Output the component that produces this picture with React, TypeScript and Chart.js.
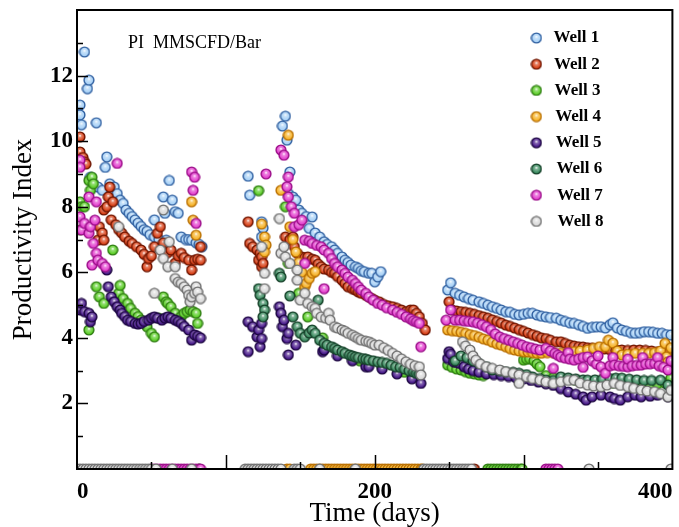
import React, { useEffect, useRef } from 'react';
import { Chart, registerables } from 'chart.js';

Chart.register(...registerables);

// ---------------- data (day, productivity index) ----------------
const wellNames = ['Well 1', 'Well 2', 'Well 3', 'Well 4', 'Well 5', 'Well 6', 'Well 7', 'Well 8'];
const wellFills = ['#a9d2f7', '#d9431a', '#5fcf2c', '#f7b52c', '#4b1d8c', '#3d8c61', '#e444cf', '#dadada'];
const wellEdges = ['#2f5fa0', '#6e1500', '#2f7d12', '#b86e00', '#1c0640', '#164029', '#9a0f88', '#6e6e6e'];

const xTickLabels = [0, 200, 400];
const yTickLabels = [2, 4, 6, 8, 10, 12];
const annotationText = 'PI  MMSCFD/Bar';
const xTitle = 'Time (days)';
const yTitle = 'Productivity Index';

const well1 = [
  [2, 11.1], [2, 10.8], [3, 10.5], [5, 12.72], [7, 11.6], [8, 11.86], [9, 8.9], [11, 8.7], [13, 10.56], [14, 8.6],
  [17, 8.5], [19, 9.2], [20, 9.52], [22, 8.7], [25, 8.6], [27, 8.4], [29, 8.2], [31, 8.1], [33, 7.9], [35, 7.8],
  [37, 7.7], [39, 7.6], [41, 7.5], [43, 7.4], [45, 7.3], [47, 7.25], [49, 7.15], [52, 7.08], [52, 7.6], [55, 7.0],
  [58, 8.3], [59, 7.8], [60, 6.98], [62, 8.8], [64, 8.2], [66, 7.85], [68, 7.8], [70, 7.08], [73, 7.0], [75, 7.0],
  [77, 6.98], [80, 6.9], [82, 6.85], [84, 6.78],
  [115, 8.93], [116, 8.35], [124, 7.54], [125, 7.35], [124, 7.08],
  [138, 10.46], [140, 10.76], [141, 10.03], [142, 8.4], [143, 9.06], [145, 8.3], [147, 8.2], [149, 7.9], [151, 7.8],
  [154, 7.7], [156, 7.34], [158, 7.69], [160, 7.2], [163, 7.08], [166, 6.93], [168, 6.85], [171, 6.78], [173, 6.68],
  [175, 6.58], [178, 6.47], [180, 6.37], [182, 6.3], [184, 6.22], [187, 6.17], [189, 6.12], [191, 6.05], [193, 6.02],
  [196, 5.97], [198, 5.97], [200, 5.71], [202, 5.86], [204, 6.02],
  [249, 5.46], [251, 5.68], [254, 5.36], [257, 5.3], [260, 5.25], [263, 5.2], [266, 5.15], [270, 5.1], [273, 5.05],
  [276, 5.0], [279, 4.95], [282, 4.9], [285, 4.85], [288, 4.8], [291, 4.78], [294, 4.72], [297, 4.7], [300, 4.72],
  [303, 4.75], [306, 4.75], [309, 4.7], [312, 4.66], [315, 4.64], [318, 4.62], [322, 4.6], [325, 4.54], [328, 4.5],
  [331, 4.46], [334, 4.44], [337, 4.4], [340, 4.35], [343, 4.29], [346, 4.32], [349, 4.34], [352, 4.34], [355, 4.3],
  [358, 4.4], [360, 4.46], [363, 4.3], [366, 4.24], [369, 4.2], [372, 4.16], [375, 4.14], [378, 4.16], [381, 4.19],
  [384, 4.19], [387, 4.17], [390, 4.14], [393, 4.14], [396, 4.1], [399, 4.09],
];

const well2 = [
  [2, 10.13], [2, 9.67], [3, 9.45], [4, 9.5], [5, 9.37], [6, 9.3], [14, 6.98], [15, 7.39], [17, 7.2], [18, 6.98],
  [18, 7.9], [20, 8.0], [21, 8.3], [22, 8.6], [24, 8.15], [23, 7.6], [26, 7.45], [28, 7.3], [30, 7.2], [32, 7.08],
  [35, 6.95], [37, 6.88], [40, 6.78], [43, 6.68], [45, 6.55], [47, 6.17], [48, 6.42], [50, 6.5], [52, 6.78], [54, 7.19],
  [56, 7.39], [58, 6.9], [59, 6.58], [61, 6.6], [63, 6.68], [66, 6.28], [68, 6.5], [70, 6.58], [72, 6.45], [75, 6.37],
  [77, 6.07], [79, 6.37], [81, 6.4], [83, 6.37], [83, 6.78],
  [115, 7.54], [116, 6.88], [118, 6.78], [121, 6.68], [122, 6.37], [123, 6.58], [124, 6.47], [124, 6.17], [125, 6.27],
  [140, 7.08], [143, 7.0], [145, 7.08], [146, 6.78], [148, 6.58], [151, 6.47], [153, 6.45], [155, 6.47], [158, 6.4],
  [160, 6.37], [162, 6.25], [164, 6.17], [166, 6.1], [169, 6.07], [171, 6.0], [173, 5.97], [175, 5.87], [178, 5.76],
  [180, 5.66], [182, 5.56], [185, 5.5], [187, 5.46], [189, 5.4], [191, 5.36], [194, 5.3], [196, 5.25], [198, 5.2],
  [200, 5.15], [203, 5.1], [206, 5.02], [209, 4.98], [212, 4.95], [215, 4.9], [218, 4.85], [221, 4.8], [224, 4.85],
  [226, 4.85], [228, 4.75], [230, 4.64], [232, 4.44], [234, 4.24],
  [250, 5.1], [252, 4.85], [255, 4.82], [258, 4.8], [261, 4.78], [264, 4.75], [267, 4.72], [270, 4.68], [273, 4.64],
  [276, 4.6], [279, 4.55], [282, 4.5], [285, 4.45], [288, 4.39], [291, 4.35], [294, 4.3], [297, 4.25], [300, 4.2],
  [303, 4.15], [306, 4.1], [309, 4.05], [312, 4.0], [315, 3.98], [318, 3.93], [322, 3.88], [325, 3.88], [328, 3.83],
  [331, 3.78], [334, 3.75], [337, 3.73], [340, 3.72], [343, 3.7], [346, 3.68], [350, 3.68], [354, 3.66], [358, 3.64],
  [362, 3.63], [366, 3.63], [370, 3.62], [374, 3.63], [378, 3.63], [382, 3.62], [386, 3.6], [390, 3.58], [394, 3.58],
  [398, 3.56],
];

const well3 = [
  [2, 8.15], [2, 7.29], [3, 8.0], [5, 8.0], [8, 8.8], [9, 8.5], [10, 8.9], [11, 8.7], [8, 4.24], [13, 5.56],
  [15, 5.25], [18, 5.05], [24, 6.68], [28, 5.36], [29, 5.6], [31, 5.2], [34, 5.05], [36, 4.9], [39, 4.75], [41, 4.65],
  [43, 4.54], [45, 4.45], [47, 4.34], [50, 4.14], [52, 4.03], [55, 4.6], [58, 5.25], [60, 5.1], [61, 5.05], [63, 4.95],
  [66, 4.75], [68, 4.54], [70, 4.65], [72, 4.75], [74, 4.8], [76, 4.85], [78, 4.8], [80, 4.75], [81, 4.44],
  [122, 8.49],
  [140, 8.0], [142, 6.27], [149, 5.36], [155, 4.64], [165, 4.0], [175, 3.6], [190, 3.3], [205, 3.12], [220, 2.95],
  [249, 3.17], [252, 3.1], [255, 3.05], [258, 3.02], [261, 2.97], [264, 2.92], [267, 2.9], [270, 2.87], [273, 2.85],
  [300, 3.32], [302, 3.35], [304, 3.37], [307, 3.3], [309, 3.2], [311, 3.12], [315, 2.85], [320, 2.78], [325, 2.76],
  [330, 2.74], [335, 2.7], [340, 2.68], [345, 2.66], [350, 2.65], [355, 2.63], [360, 2.62], [365, 2.6], [370, 2.6],
  [375, 2.58], [380, 2.55], [385, 2.57], [390, 2.6], [395, 2.62], [398, 2.6], [399, 2.77],
];

const well4 = [
  [77, 8.15], [78, 7.59], [80, 7.13],
  [124, 7.47], [126, 7.08], [127, 6.83], [126, 6.62],
  [137, 8.5], [142, 10.18], [143, 7.39], [145, 7.0], [147, 6.62], [149, 6.3], [151, 6.0], [153, 5.56], [154, 5.66],
  [156, 5.81], [158, 5.97], [160, 6.02],
  [249, 4.24], [252, 4.22], [255, 4.2], [258, 4.17], [261, 4.14], [264, 4.1], [267, 4.07], [270, 4.02], [273, 3.97],
  [276, 3.93], [279, 3.87], [282, 3.82], [285, 3.78], [288, 3.73], [291, 3.67], [294, 3.63], [297, 3.6], [300, 3.58],
  [303, 3.57], [306, 3.55], [309, 3.53], [312, 3.53], [316, 3.55], [320, 3.55], [325, 3.53], [330, 3.56], [334, 3.58],
  [338, 3.6], [343, 3.63], [347, 3.68], [351, 3.73], [355, 3.73], [357, 3.93], [360, 3.84], [363, 3.6], [366, 3.48],
  [370, 3.5], [375, 3.53], [380, 3.53], [384, 3.53], [388, 3.55], [392, 3.6], [395, 3.83], [396, 3.42], [397, 3.27],
  [399, 3.7],
];

const well5 = [
  [1, 4.95], [2, 4.85], [3, 5.05], [5, 4.8], [8, 4.75], [9, 4.49], [10, 4.64], [20, 6.07], [21, 5.56], [23, 5.25],
  [25, 5.1], [27, 4.95], [29, 4.85], [30, 4.75], [32, 4.65], [34, 4.54], [36, 4.5], [39, 4.44], [41, 4.42], [43, 4.44],
  [45, 4.5], [48, 4.54], [50, 4.6], [52, 4.64], [54, 4.6], [57, 4.54], [59, 4.6], [61, 4.64], [63, 4.6], [66, 4.54],
  [68, 4.5], [70, 4.44], [72, 4.35], [75, 4.24], [77, 3.93], [79, 4.09], [81, 4.05], [83, 4.0],
  [115, 4.49], [115, 3.58], [118, 4.34], [121, 4.03], [122, 4.24], [123, 3.73], [124, 4.44], [124, 3.98],
  [136, 4.95], [137, 4.75], [138, 4.34], [139, 4.54], [141, 3.98], [142, 4.14], [142, 3.48], [147, 3.78], [165, 3.58],
  [166, 3.63], [175, 3.45], [185, 3.3], [194, 3.12], [196, 3.12], [205, 3.05], [215, 2.9], [225, 2.75], [231, 2.61],
  [249, 3.37], [250, 3.58], [251, 3.5], [253, 3.27], [255, 3.25], [257, 3.22], [260, 3.12], [263, 3.05], [266, 3.0],
  [270, 2.95], [275, 2.9], [280, 2.88], [285, 2.85], [290, 2.82], [295, 2.78], [300, 2.75], [305, 2.7], [310, 2.65],
  [315, 2.6], [320, 2.55], [325, 2.45], [330, 2.35], [335, 2.28], [340, 2.2], [342, 2.1], [346, 2.2], [352, 2.25],
  [358, 2.2], [361, 2.15], [365, 2.1], [370, 2.2], [375, 2.25], [379, 2.2], [385, 2.22], [390, 2.25], [397, 2.2],
];

const well6 = [
  [122, 5.5], [123, 5.3], [125, 5.05], [126, 4.85], [125, 4.64],
  [136, 5.97], [137, 5.86], [143, 5.28], [145, 4.64], [148, 4.34], [150, 4.14], [153, 4.03], [156, 4.15], [158, 4.24],
  [160, 4.14], [162, 5.15], [163, 3.93], [166, 3.83], [168, 3.78], [171, 3.73], [173, 3.68], [175, 3.63], [178, 3.58],
  [180, 3.53], [183, 3.48], [185, 3.45], [187, 3.42], [189, 3.4], [192, 3.37], [194, 3.35], [196, 3.32], [199, 3.3],
  [202, 3.27], [205, 3.25], [208, 3.22], [211, 3.17], [214, 3.12], [217, 3.1], [220, 3.05], [223, 3.0], [226, 2.96],
  [228, 2.92], [230, 2.9],
  [254, 3.3], [258, 3.45], [262, 3.4], [266, 3.3], [270, 3.22], [275, 3.12], [279, 3.02], [284, 3.0], [288, 2.97],
  [293, 2.95], [297, 2.92], [302, 2.88], [306, 2.81], [311, 2.76], [315, 2.71], [320, 2.7], [325, 2.81], [330, 2.78],
  [335, 2.75], [340, 2.72], [343, 2.71], [348, 2.72], [353, 2.74], [358, 2.76], [362, 2.77], [366, 2.77], [371, 2.74],
  [376, 2.72], [381, 2.7], [386, 2.7], [392, 2.71], [397, 2.56],
];

const well7 = [
  [2, 9.42], [2, 9.2], [2, 7.69], [3, 7.29], [5, 7.49], [8, 8.3], [8, 7.19], [9, 7.39], [10, 6.22], [11, 6.88],
  [12, 7.59], [13, 8.15], [13, 6.58], [14, 6.37], [17, 6.27], [19, 6.17], [27, 9.32], [77, 9.06], [78, 8.5], [79, 8.9],
  [80, 7.49],
  [127, 9.0],
  [137, 9.73], [139, 9.57], [141, 8.61], [142, 8.91], [142, 8.3], [144, 8.0], [146, 7.8], [146, 7.39], [149, 7.45],
  [151, 7.59], [153, 6.98], [153, 6.27], [156, 6.95], [158, 6.88], [161, 6.82], [164, 6.78], [166, 6.68], [166, 5.5],
  [169, 6.58], [171, 6.42], [173, 6.27], [175, 6.17], [178, 6.07], [180, 5.97], [182, 5.86], [185, 5.76], [187, 5.66],
  [189, 5.56], [191, 5.46], [194, 5.36], [196, 5.25], [199, 5.15], [202, 5.05], [205, 5.0], [208, 4.92], [212, 4.85],
  [215, 4.78], [218, 4.72], [221, 4.64], [224, 4.58], [226, 4.52], [228, 4.49], [230, 4.44], [231, 3.73],
  [248, 4.54], [251, 4.85], [254, 4.54], [257, 4.54], [260, 4.52], [263, 4.5], [266, 4.49], [269, 4.45], [272, 4.4],
  [275, 4.34], [278, 4.25], [281, 4.12], [284, 4.03], [287, 3.98], [290, 3.93], [293, 3.88], [296, 3.83], [299, 3.78],
  [302, 3.73], [305, 3.7], [308, 3.66], [311, 3.63], [315, 3.68], [318, 3.6], [320, 3.07], [321, 3.53], [323, 3.47],
  [325, 3.42], [328, 3.38], [330, 3.55], [331, 3.35], [334, 3.32], [337, 3.36], [340, 3.4], [340, 3.1], [343, 3.42],
  [346, 3.3], [349, 3.2], [350, 3.45], [352, 3.12], [355, 2.92], [358, 3.15], [360, 3.4], [361, 3.17], [364, 3.15],
  [367, 3.13], [370, 3.12], [370, 3.35], [373, 3.15], [376, 3.16], [379, 3.17], [380, 3.4], [382, 3.2], [385, 3.21],
  [388, 3.22], [390, 3.4], [391, 3.15], [394, 3.1], [397, 3.02], [399, 3.3],
];

const well8 = [
  [28, 7.39], [52, 5.36], [56, 6.68], [58, 7.9], [58, 6.42], [61, 6.17], [62, 6.93], [66, 6.17], [66, 5.81], [68, 5.7],
  [70, 5.66], [72, 5.56], [74, 5.46], [75, 5.3], [76, 5.1], [77, 5.25], [79, 5.36], [80, 5.56], [81, 5.4], [83, 5.2],
  [124, 6.78], [126, 5.97], [126, 5.5],
  [136, 7.64], [137, 6.58], [139, 6.78], [140, 6.47], [143, 6.27], [148, 6.07], [148, 5.76], [150, 5.15], [153, 5.36],
  [155, 5.05], [158, 4.95], [160, 4.9], [161, 4.75], [164, 4.64], [167, 4.6], [169, 4.75], [170, 4.54], [173, 4.34],
  [175, 4.3], [178, 4.24], [180, 4.2], [182, 4.14], [185, 4.08], [187, 4.03], [189, 3.98], [191, 3.93], [194, 3.9],
  [196, 3.88], [198, 3.83], [200, 3.78], [203, 3.78], [206, 3.7], [209, 3.62], [212, 3.53], [215, 3.45], [218, 3.36],
  [221, 3.27], [224, 3.2], [227, 3.15], [230, 3.12], [231, 2.87],
  [259, 3.88], [261, 3.75], [264, 3.63], [266, 3.45], [268, 3.32], [271, 3.2], [275, 3.12], [279, 3.07], [284, 3.02],
  [288, 2.97], [293, 2.92], [297, 2.87], [297, 2.61], [302, 2.81], [306, 2.76], [311, 2.71], [315, 2.66], [320, 2.61],
  [325, 2.66], [330, 2.7], [334, 2.71], [338, 2.62], [343, 2.56], [347, 2.53], [352, 2.51], [356, 2.56], [361, 2.61],
  [365, 2.55], [370, 2.51], [374, 2.46], [379, 2.41], [383, 2.38], [388, 2.36], [392, 2.3], [397, 2.2], [399, 2.4],
];

// days on which a well reads zero (shut in) - drawn on the x axis
const well1ShutIn: number[] = [];
const well2ShutIn = [267];
const well3ShutIn = [82, 276, 278, 280, 282, 284, 286, 288, 290, 292, 294, 296, 298, 299];
const well4ShutIn = [141, 143, 157, 159, 161, 163, 165, 167, 169, 171, 173, 175, 177, 179, 181, 183, 185, 187, 189, 191, 193, 195, 197, 199, 201, 203, 205, 207, 209, 211, 213, 215, 217, 219, 221, 223, 225, 227, 229, 231, 232];
const well5ShutIn: number[] = [];
const well6ShutIn: number[] = [];
const well7ShutIn = [50, 52, 54, 56, 58, 60, 62, 64, 66, 68, 70, 72, 74, 76, 78, 80, 82, 83, 315, 317, 319, 321, 323];
const well8ShutIn = [0, 2, 4, 6, 8, 10, 12, 14, 16, 18, 20, 22, 24, 26, 28, 30, 32, 34, 36, 38, 40, 42, 44, 46, 48, 50, 53, 64, 77, 113, 115, 117, 119, 121, 123, 125, 127, 129, 131, 133, 135, 137, 146, 148, 150, 163, 187, 233, 235, 237, 239, 241, 243, 245, 247, 249, 251, 253, 255, 257, 259, 261, 263, 265, 344, 399];

const wellPoints = [well1, well2, well3, well4, well5, well6, well7, well8];
const wellShutIn = [well1ShutIn, well2ShutIn, well3ShutIn, well4ShutIn, well5ShutIn, well6ShutIn, well7ShutIn, well8ShutIn];

const SERIF = '"Liberation Serif", "Times New Roman", serif';

function makeSphere(fill: string, edge: string): HTMLCanvasElement {
  const r = 5.6;
  const s = 12;
  const c = document.createElement('canvas');
  c.width = s;
  c.height = s;
  const g = c.getContext('2d')!;
  const cx = s / 2;
  const cy = s / 2;
  g.beginPath();
  g.arc(cx, cy, r - 0.7, 0, Math.PI * 2);
  g.fillStyle = fill;
  g.fill();
  const grad = g.createRadialGradient(cx, cy - 1.3, 0.2, cx, cy - 0.6, r * 0.75);
  grad.addColorStop(0, 'rgba(255,255,255,0.95)');
  grad.addColorStop(0.35, 'rgba(255,255,255,0.35)');
  grad.addColorStop(1, 'rgba(255,255,255,0)');
  g.fillStyle = grad;
  g.fill();
  g.lineWidth = 1.4;
  g.strokeStyle = edge;
  g.stroke();
  return c;
}

export default function App() {
  const ref = useRef<HTMLCanvasElement | null>(null);

  useEffect(() => {
    if (!ref.current) return;
    const spheres = wellFills.map((f, i) => makeSphere(f, wellEdges[i]));

    const datasets = wellNames.map((name, i) => ({
      label: name,
      data: [
        ...wellPoints[i].map(([d, v]) => ({ x: d, y: v })),
        ...wellShutIn[i].map((d) => ({ x: d, y: 0 })),
      ],
      pointStyle: spheres[i] as any,
      pointRadius: 5.6,
      showLine: false,
      order: 8 - i,
      clip: 0,
    }));

    const framePlugin = {
      id: 'frame',
      afterDraw(chart: any) {
        const { ctx, chartArea: a, scales } = chart;
        const xs = scales.x;
        const ys = scales.y;
        ctx.save();
        ctx.strokeStyle = '#000';
        ctx.lineWidth = 1.5;
        ctx.beginPath();
        for (let v = ys.min + 1; v < ys.max; v += 1) {
          const y = Math.round(ys.getPixelForValue(v)) + 0.5;
          const len = v % 2 === 0 ? 11 : 6;
          ctx.moveTo(a.left, y);
          ctx.lineTo(a.left + len, y);
        }
        for (let v = xs.min + 50; v < xs.max; v += 50) {
          const x = Math.round(xs.getPixelForValue(v)) + 0.5;
          const len = v % 100 === 0 ? 14 : 7;
          ctx.moveTo(x, a.bottom);
          ctx.lineTo(x, a.bottom - len);
        }
        ctx.stroke();
        ctx.lineWidth = 2;
        ctx.strokeRect(a.left, a.top, a.right - a.left, a.bottom - a.top);

        ctx.fillStyle = '#000';
        ctx.font = `18px ${SERIF}`;
        ctx.textAlign = 'left';
        ctx.textBaseline = 'alphabetic';
        ctx.fillText(annotationText, a.left + 51, a.top + 38);

        ctx.font = `bold 17px ${SERIF}`;
        ctx.textBaseline = 'middle';
        wellNames.forEach((name, i) => {
          const cy = a.top + 28 + 26.2 * i;
          const img = spheres[i];
          ctx.drawImage(img, a.right - 136 - img.width / 2, cy - img.height / 2);
          ctx.fillText(name, a.right - 119 + i * 0.6, cy);
        });
        ctx.restore();
      },
    };

    const chart = new Chart(ref.current, {
      type: 'scatter',
      data: { datasets: datasets as any },
      options: {
        animation: false,
        responsive: false,
        events: [],
        layout: { padding: { top: 10, right: 6, left: 0, bottom: 0 } },
        plugins: { legend: { display: false }, tooltip: { enabled: false } },
        scales: {
          x: {
            type: 'linear',
            min: 0,
            max: 400,
            afterBuildTicks: (scale: any) => {
              scale.ticks = xTickLabels.map((v) => ({ value: v }));
            },
            ticks: {
              align: 'inner',
              padding: 9,
              color: '#000',
              font: { family: SERIF, size: 23, weight: 'bold' },
              maxRotation: 0,
              autoSkip: false,
            },
            grid: { display: false, drawTicks: false },
            border: { display: false },
            title: {
              display: true,
              text: xTitle,
              color: '#000',
              font: { family: SERIF, size: 27, lineHeight: 1 },
              padding: { top: 0, bottom: 0 },
            },
            afterFit: (scale: any) => {
              scale.height = 58;
              scale.paddingLeft = 0;
              scale.paddingRight = 0;
            },
          },
          y: {
            type: 'linear',
            min: 0,
            max: 14,
            afterBuildTicks: (scale: any) => {
              scale.ticks = yTickLabels.map((v) => ({ value: v }));
            },
            ticks: {
              padding: 4,
              color: '#000',
              font: { family: SERIF, size: 23, weight: 'bold' },
              autoSkip: false,
            },
            grid: { display: false, drawTicks: false },
            border: { display: false },
            title: {
              display: true,
              text: yTitle,
              color: '#000',
              font: { family: SERIF, size: 27, lineHeight: 1 },
              padding: { top: 10, bottom: 0 },
            },
            afterFit: (scale: any) => {
              scale.width = 77;
              scale.paddingTop = 0;
              scale.paddingBottom = 0;
            },
          },
        },
      } as any,
      plugins: [framePlugin],
    });
    return () => chart.destroy();
  }, []);

  return (
    <div style={{ position: 'fixed', left: 0, top: 0, width: 679, height: 527, background: '#fff' }}>
      <canvas ref={ref} width={679} height={527} style={{ display: 'block', width: 679, height: 527 }} />
    </div>
  );
}
